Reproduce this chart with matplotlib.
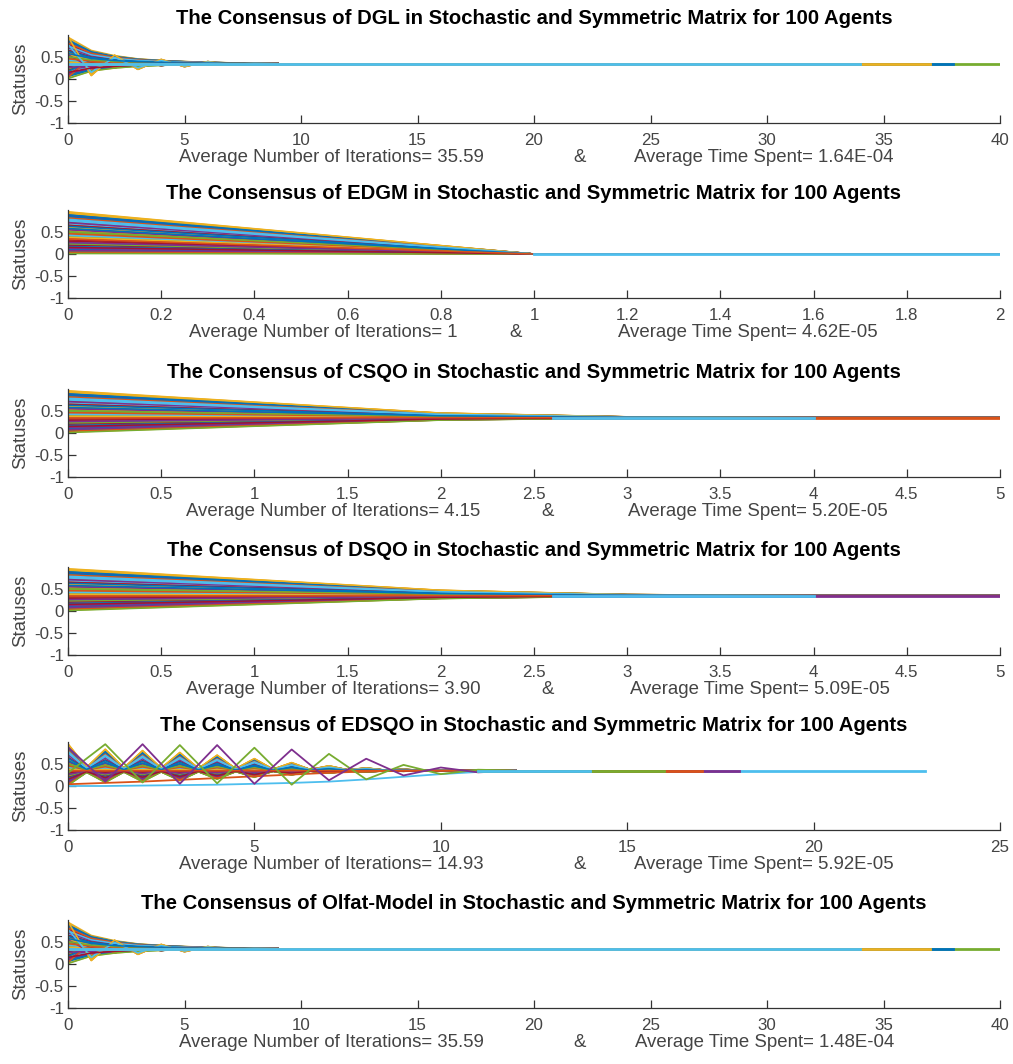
import numpy as np
import matplotlib.pyplot as plt

plt.rcParams['font.family'] = ['Liberation Sans', 'DejaVu Sans']

# MATLAB default line colour order
COLORS = ['#0072BD', '#D95319', '#EDB120', '#7E2F8E', '#77AC30', '#4DBEEE', '#A2142F']
BLUE, ORANGE, YELLOW, PURPLE, GREEN, LIGHTBLUE, RED = COLORS

# initial statuses of the 100 agents (estimated from the fans at x=0)
init_status = [0.81, 0.12, 0.47, 0.93, 0.28, 0.66, 0.05, 0.39, 0.74, 0.18,
               0.58, 0.87, 0.33, 0.09, 0.62, 0.24, 0.95, 0.43, 0.15, 0.70,
               0.52, 0.03, 0.78, 0.36, 0.90, 0.21, 0.56, 0.11, 0.68, 0.30,
               0.84, 0.45, 0.07, 0.60, 0.26, 0.91, 0.40, 0.14, 0.76, 0.50,
               0.19, 0.88, 0.34, 0.64, 0.02, 0.54, 0.83, 0.27, 0.72, 0.10,
               0.48, 0.94, 0.22, 0.59, 0.37, 0.80, 0.06, 0.67, 0.31, 0.86,
               0.16, 0.44, 0.73, 0.25, 0.57, 0.92, 0.08, 0.41, 0.69, 0.20,
               0.85, 0.35, 0.61, 0.13, 0.49, 0.77, 0.29, 0.89, 0.04, 0.53,
               0.71, 0.23, 0.42, 0.65, 0.17, 0.82, 0.38, 0.55, 0.01, 0.75,
               0.32, 0.63, 0.46, 0.96, 0.26, 0.51, 0.79, 0.15, 0.58, 0.34]

# remaining share of each agent's deviation from consensus, per iteration
dgl_steady = [1, 0.50, 0.30, 0.18, 0.12, 0.08, 0.05, 0.03, 0.015, 0]
dgl_alter = [1, -0.45, 0.32, -0.22, 0.16, -0.12, 0.08, -0.05, 0.025, 0]
edgm_share = [1, 0, 0]
csqo_share = [1, 0.58, 0.17, 0.03, 0, 0]
dsqo_share = [1, 0.60, 0.20, 0.04, 0, 0]
# EDSQO is sampled every half iteration
edsqo_share = [1, 0.12, 0.80, 0.10, 0.75, 0.09, 0.68, 0.08, 0.58, 0.07,
               0.45, 0.05, 0.30, 0.04, 0.18, 0.03, 0.10, 0.02, 0.05, 0.01,
               0.02, 0, 0, 0, 0]
# EDSQO agents standing out from the bundle (one value per iteration)
edsqo_green = [0.30, 0.95, 0.08, 0.93, 0.06, 0.87, 0.03, 0.73, 0.15, 0.48, 0.27, 0.37, 0.35]
edsqo_purple = [0.88, 0.10, 0.95, 0.05, 0.93, 0.05, 0.83, 0.13, 0.62, 0.24, 0.42, 0.31, 0.35]
edsqo_slow_blue = [0.0, 0.0, 0.01, 0.02, 0.03, 0.05, 0.07, 0.10, 0.15, 0.21, 0.27, 0.32, 0.35]
edsqo_slow_orange = [0.04, 0.07, 0.10, 0.14, 0.18, 0.22, 0.26, 0.30, 0.33, 0.35, 0.35, 0.35, 0.35]

consensus = [0.35, 0.0, 0.35, 0.35, 0.35, 0.35]
# lengths of the longest runs (drawn as flat lines at consensus)
run_ends = [[40, 38, 37, 34], [2], [5, 4], [5, 4], [23, 18, 17, 16, 14], [40, 38, 37, 34]]
run_colors = [[GREEN, BLUE, YELLOW, LIGHTBLUE], [LIGHTBLUE], [ORANGE, LIGHTBLUE],
              [PURPLE, LIGHTBLUE], [LIGHTBLUE, PURPLE, ORANGE, GREEN, LIGHTBLUE],
              [GREEN, BLUE, YELLOW, LIGHTBLUE]]
run_starts = [0, 1, 2.6, 2.6, 11, 0]

methods = ['DGL', 'EDGM', 'CSQO', 'DSQO', 'EDSQO', 'Olfat-Model']
avg_iters = ['35.59', '1', '4.15', '3.90', '14.93', '35.59']
avg_times = ['1.64E-04', '4.62E-05', '5.20E-05', '5.09E-05', '5.92E-05', '1.48E-04']
x_max = [40, 2, 5, 5, 25, 40]
x_step = [5, 0.2, 0.5, 0.5, 5, 5]

# where the three parts of each x label sit (axes fraction)
label_start = [0.119, 0.130, 0.127, 0.127, 0.119, 0.119]
amp_pos = [0.549, 0.480, 0.515, 0.515, 0.549, 0.549]
label_end = [0.886, 0.869, 0.880, 0.882, 0.886, 0.886]

GRAY = '#444444'


def fan(c, share):
    dev = np.array(init_status) - c
    return c + dev[:, None] * np.array(share)[None, :]


def panel(ax, k, x, paths, extra=()):
    c = consensus[k]
    for i, p in enumerate(paths):
        ax.plot(x, p, color=COLORS[i % 7], lw=1.1)
    for xs, ys, col in extra:
        ax.plot(xs, ys, color=col, lw=1.3)
    for end, col in zip(run_ends[k], run_colors[k]):
        ax.plot([run_starts[k], end], [c, c], color=col, lw=2.0)

    ax.set_xlim(0, x_max[k])
    ax.set_ylim(-1, 1)
    ax.set_xticks(np.round(np.arange(0, x_max[k] + 1e-9, x_step[k]), 2))
    ax.set_xticklabels([f'{t:g}' for t in ax.get_xticks()])
    ax.set_yticks([-1, -0.5, 0, 0.5])
    ax.set_yticklabels(['-1', '-0.5', '0', '0.5'])
    for s in ['top', 'right']:
        ax.spines[s].set_visible(False)
    for s in ['left', 'bottom']:
        ax.spines[s].set_color('#333333')
        ax.spines[s].set_linewidth(0.9)
    ax.tick_params(direction='in', length=6, width=0.9, colors='#333333',
                   labelcolor=GRAY, labelsize=12.2)
    ax.tick_params(axis='x', pad=7)
    ax.tick_params(axis='y', pad=3)
    ax.set_title(f'The Consensus of {methods[k]} in Stochastic and Symmetric Matrix for 100 Agents',
                 fontsize=14.6, fontweight='bold', pad=8)
    ax.text(label_start[k], -0.39, f'Average Number of Iterations= {avg_iters[k]}',
            transform=ax.transAxes, ha='left', va='center', fontsize=13.4, color=GRAY)
    ax.text(amp_pos[k], -0.39, '&', transform=ax.transAxes,
            ha='center', va='center', fontsize=13.4, color=GRAY)
    ax.text(label_end[k], -0.39, f'Average Time Spent= {avg_times[k]}',
            transform=ax.transAxes, ha='right', va='center', fontsize=13.4, color=GRAY)
    ax.set_ylabel('Statuses', fontsize=13.4, color=GRAY, labelpad=4)


fig = plt.figure(figsize=(10.13, 10.64), dpi=100)
bottoms_px = [123, 298, 477, 655, 830, 1008]
axes = [fig.add_axes([68 / 1013, 1 - b / 1064, 932 / 1013, 88 / 1064]) for b in bottoms_px]

# DGL and Olfat-Model: every third agent oscillates around consensus
dgl_paths = []
for i in range(100):
    share = dgl_alter if i % 3 == 0 else dgl_steady
    dgl_paths.append(fan(consensus[0], share)[i])
x_dgl = np.arange(len(dgl_steady))
panel(axes[0], 0, x_dgl, dgl_paths)
panel(axes[5], 5, x_dgl, dgl_paths)

panel(axes[1], 1, np.arange(len(edgm_share)), fan(consensus[1], edgm_share))
panel(axes[2], 2, np.arange(len(csqo_share)), fan(consensus[2], csqo_share))
panel(axes[3], 3, np.arange(len(dsqo_share)), fan(consensus[3], dsqo_share))

x_half = np.arange(len(edsqo_share)) * 0.5
x_int = np.arange(len(edsqo_green))
panel(axes[4], 4, x_half, fan(consensus[4], edsqo_share),
      extra=[(x_int, edsqo_slow_orange, ORANGE), (x_int, edsqo_slow_blue, LIGHTBLUE),
             (x_int, edsqo_green, GREEN), (x_int, edsqo_purple, PURPLE)])

fig.savefig('out.png', dpi=100)
